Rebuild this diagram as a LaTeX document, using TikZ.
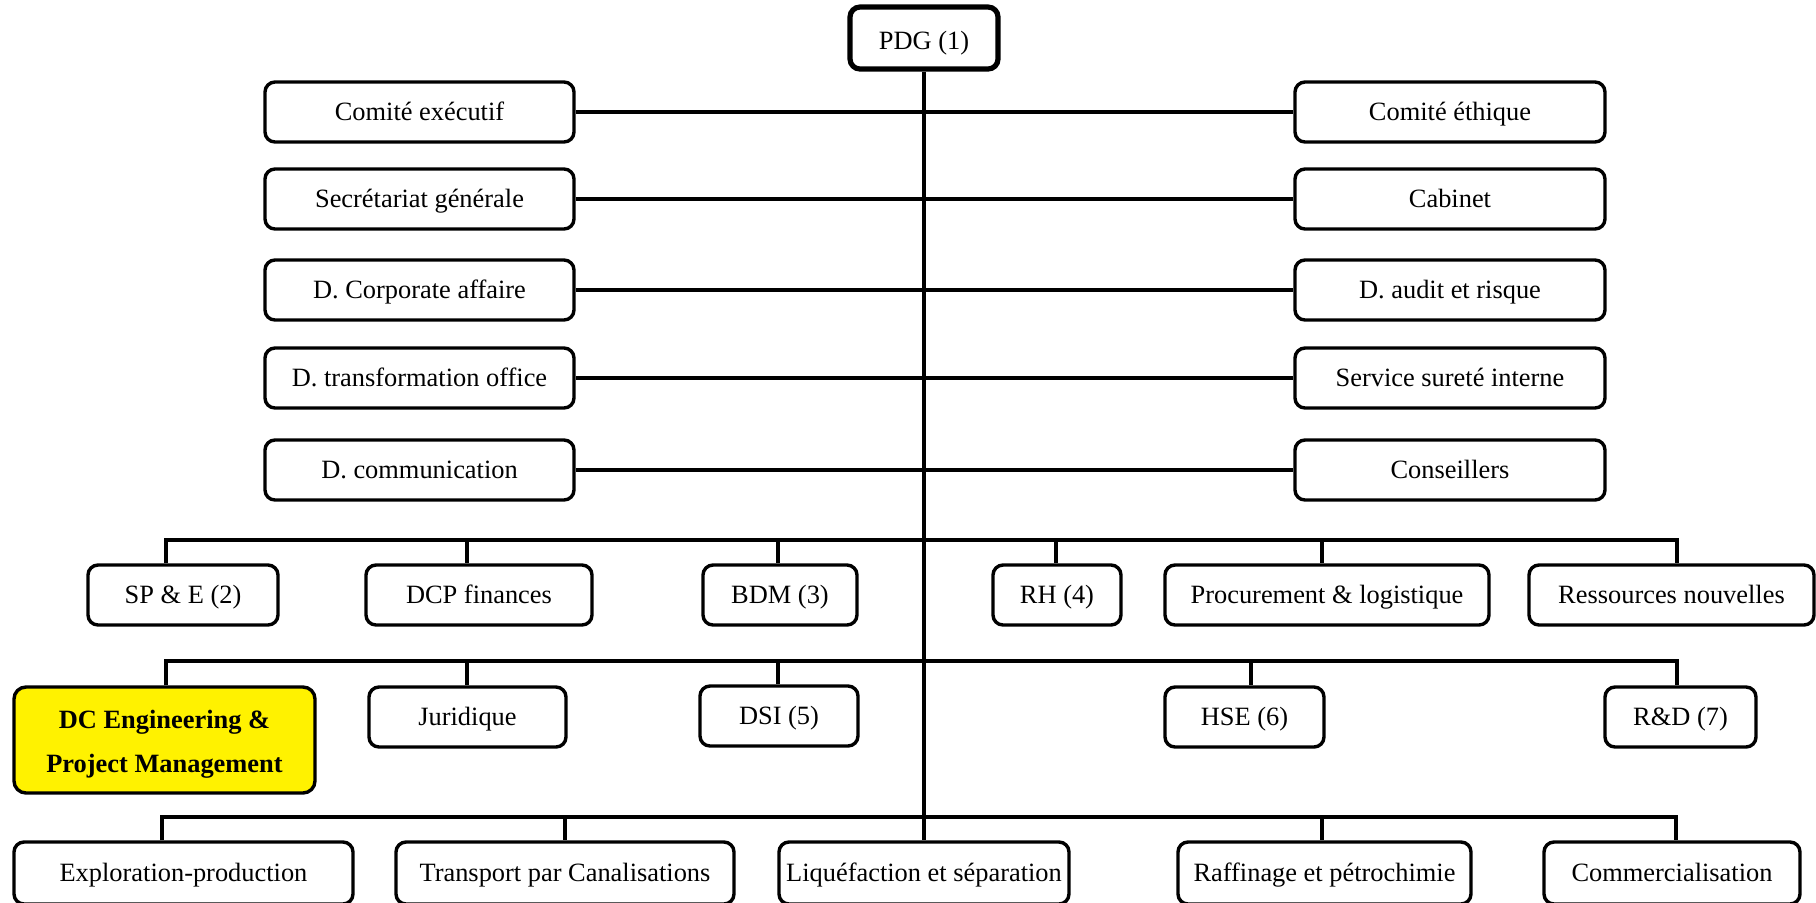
\documentclass[tikz,border=0pt]{standalone}
\usepackage{fontspec}
\setmainfont{Liberation Serif}
\begin{document}
\begin{tikzpicture}[x=0.5pt,y=-0.5pt,
  box/.style={draw=black, line width=1.7pt, rounded corners=5pt, fill=white,
    inner sep=0pt, align=center, text height=10.4pt, text depth=2pt,
    font=\fontsize{13.2}{22}\selectfont},
  topbox/.style={box, line width=2.6pt, text height=13pt},
  hl/.style={draw=black, line width=1.7pt, rounded corners=6pt, fill=yellow,
    inner sep=0pt, align=center, text height=35.8pt,
    font=\fontsize{13.2}{22}\selectfont\bfseries},
  conn/.style={line width=1.7pt}]
\useasboundingbox (0,0) rectangle (1816,902);
% top
\node[topbox, minimum width=74pt, minimum height=31pt] (pdg) at (924,38) {PDG (1)};
% staff rows
\node[box, minimum width=154.5pt, minimum height=30pt] (l1) at (419.5,112) {Comité exécutif};
\node[box, minimum width=154.5pt, minimum height=30pt] (l2) at (419.5,199) {Secrétariat générale};
\node[box, minimum width=154.5pt, minimum height=30pt] (l3) at (419.5,290) {D. Corporate affaire};
\node[box, minimum width=154.5pt, minimum height=30pt] (l4) at (419.5,378) {D. transformation office};
\node[box, minimum width=154.5pt, minimum height=30pt] (l5) at (419.5,470) {D. communication};
\node[box, minimum width=155pt, minimum height=30pt] (r1) at (1450,112) {Comité éthique};
\node[box, minimum width=155pt, minimum height=30pt] (r2) at (1450,199) {Cabinet};
\node[box, minimum width=155pt, minimum height=30pt] (r3) at (1450,290) {D. audit et risque};
\node[box, minimum width=155pt, minimum height=30pt] (r4) at (1450,378) {Service sureté interne};
\node[box, minimum width=155pt, minimum height=30pt] (r5) at (1450,470) {Conseillers};
% row 2
\node[box, minimum width=95pt, minimum height=30pt] (a1) at (183,595) {SP \& E (2)};
\node[box, minimum width=113pt, minimum height=30pt] (a2) at (479,595) {DCP finances};
\node[box, minimum width=77pt, minimum height=30pt] (a3) at (780,595) {BDM (3)};
\node[box, minimum width=64pt, minimum height=30pt] (a4) at (1057,595) {RH (4)};
\node[box, minimum width=162pt, minimum height=30pt] (a5) at (1327,595) {Procurement \& logistique};
\node[box, minimum width=142.5pt, minimum height=30pt] (a6) at (1671.5,595) {Ressources nouvelles};
% row 3
\node[hl, minimum width=150.5pt, minimum height=53pt] (b1) at (164.5,740) {DC Engineering \&\\Project Management};
\node[box, minimum width=98.5pt, minimum height=30pt] (b2) at (467.5,717) {Juridique};
\node[box, minimum width=79pt, minimum height=30pt] (b3) at (779,716) {DSI (5)};
\node[box, minimum width=79.5pt, minimum height=30pt] (b4) at (1244.5,717) {HSE (6)};
\node[box, minimum width=75.5pt, minimum height=30pt] (b5) at (1680.5,717) {R\&D (7)};
% row 4
\node[box, minimum width=169.5pt, minimum height=31pt] (c1) at (183.5,873) {Exploration-production};
\node[box, minimum width=169pt, minimum height=31pt] (c2) at (565,873) {Transport par Canalisations};
\node[box, minimum width=145pt, minimum height=31pt] (c3) at (924,873) {Liquéfaction et séparation};
\node[box, minimum width=146.5pt, minimum height=31pt] (c4) at (1324.5,873) {Raffinage et pétrochimie};
\node[box, minimum width=128pt, minimum height=31pt] (c5) at (1672,873) {Commercialisation};
% bus coordinates
\coordinate (bA1) at (166,540);  \coordinate (bA2) at (1677,540);
\coordinate (bB1) at (166,661);  \coordinate (bB2) at (1677,661);
\coordinate (bC1) at (162,817);  \coordinate (bC2) at (1676,817);
% connectors
\draw[conn] (pdg.south) -- (c3.north);
\foreach \i in {1,...,5} { \draw[conn] (l\i.east) -- (r\i.west); }
\draw[conn] (bA1 |- a1.north) -- (bA1) -- (bA2) -- (bA2 |- a6.north);
\draw[conn] (467,540) -- (467,540 |- a2.north);
\draw[conn] (778,540) -- (778,540 |- a3.north);
\draw[conn] (1056,540) -- (1056,540 |- a4.north);
\draw[conn] (1322,540) -- (1322,540 |- a5.north);
\draw[conn] (bB1 |- b1.north) -- (bB1) -- (bB2) -- (bB2 |- b5.north);
\draw[conn] (467,661) -- (467,661 |- b2.north);
\draw[conn] (778,661) -- (778,661 |- b3.north);
\draw[conn] (1251,661) -- (1251,661 |- b4.north);
\draw[conn] (bC1 |- c1.north) -- (bC1) -- (bC2) -- (bC2 |- c5.north);
\draw[conn] (565,817) -- (565,817 |- c2.north);
\draw[conn] (1322,817) -- (1322,817 |- c4.north);
\end{tikzpicture}
\end{document}
